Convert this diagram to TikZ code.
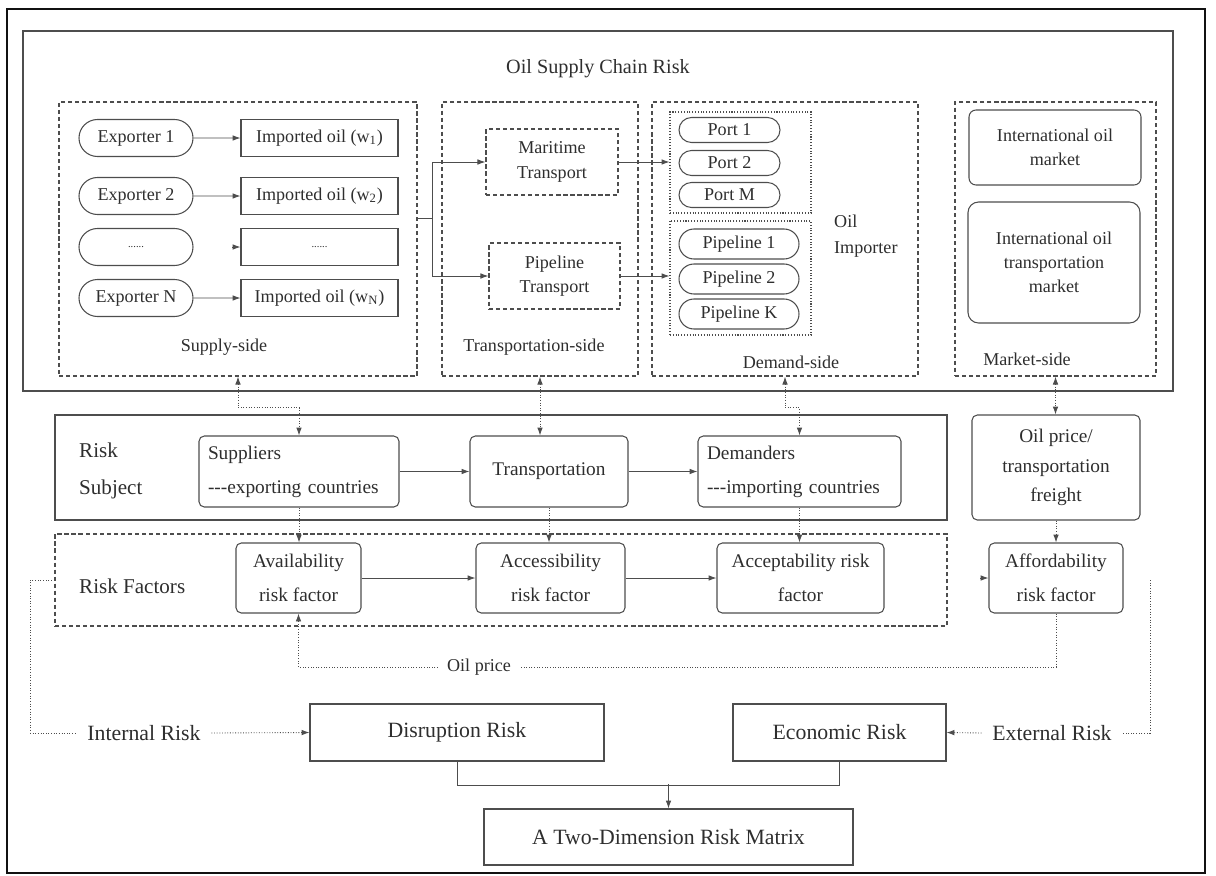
\documentclass[tikz,border=0pt]{standalone}
\usepackage{fontspec}
\setmainfont{Liberation Serif}
\usepackage{tikz}
\usetikzlibrary{calc,arrows.meta}
\usetikzlibrary{shapes.misc}
\definecolor{osc-text}{HTML}{2E2E2E}
\definecolor{osc-line}{HTML}{4D4D4D}
\definecolor{osc-frame}{HTML}{111111}
\tikzset{
  wh/.style 2 args={minimum width=#1*0.02cm, minimum height=#2*0.02cm, inner sep=0pt},
  lbl/.style={text=osc-text, font=\fontsize{10.3}{13.8}\selectfont, align=center},
  pill/.style={lbl, draw=osc-line, line width=0.6pt, rounded rectangle},
  sqbox/.style={lbl, draw=osc-line, line width=0.6pt},
  rbox/.style={lbl, draw=osc-line, line width=0.6pt, rounded corners=3pt, font=\fontsize{11}{19.3}\selectfont},
  dbox/.style={draw=osc-line, line width=0.7pt, dash pattern=on 2.4pt off 1.6pt},
  grp/.style={draw=osc-line, line width=0.6pt, densely dotted},
  link/.style={draw=osc-line, line width=0.5pt},
  dotlink/.style={draw=osc-line, line width=0.5pt, densely dotted},
  big/.style={font=\fontsize{12.4}{14}\selectfont},
}

\begin{document}
\begin{tikzpicture}[x=0.02cm, y=-0.02cm, >={Latex[length=4.5pt,width=3.2pt]}]
        \useasboundingbox (0,0) rectangle (1216,875);
        \draw[osc-frame, line width=1.4pt] (7,9) rectangle (1205,873);
        % supply chain layer
        \node[draw=osc-line, line width=0.8pt, wh={1150}{360}] (chain) at (598,211) {};
        \node[lbl, font=\fontsize{11.5}{14}\selectfont] (title) at (598,69) {Oil Supply Chain Risk};
        \node[dbox, wh={358}{274}] (supplyside) at (238,239) {};
        \node[dbox, wh={196}{274}] (transside) at (540,239) {};
        \node[dbox, wh={266}{274}] (demandside) at (785,239) {};
        \node[dbox, wh={201}{274}] (marketside) at (1055.5,239) {};
        \node[lbl] (supplylbl) at (224,347) {Supply-side};
        \node[lbl] (translbl) at (534,347) {Transportation-side};
        \node[lbl] (demandlbl) at (791,362) {Demand-side};
        \node[lbl] (marketlbl) at (1027,359) {Market-side};
        \node[pill, wh={114}{37}] (ex1) at (136,138) {Exporter 1};
        \node[pill, wh={114}{37}] (ex2) at (136,196) {Exporter 2};
        \node[pill, wh={114}{37}] (exdots) at (136,247) {\fontsize{6}{7}\selectfont ......};
        \node[pill, wh={114}{37}] (exN) at (136,298) {Exporter N};
        \node[sqbox, wh={157}{37}] (imp1) at (319.5,138) {Imported oil (w\textsubscript{1})};
        \node[sqbox, wh={157}{37}] (imp2) at (319.5,196) {Imported oil (w\textsubscript{2})};
        \node[sqbox, wh={157}{37}] (impdots) at (319.5,247) {\fontsize{6}{7}\selectfont ......};
        \node[sqbox, wh={157}{37}] (impN) at (319.5,298) {Imported oil (w\textsubscript{N})};
        \node[sqbox, dbox, wh={132}{66}] (maritime) at (552,162) {Maritime\\Transport};
        \node[sqbox, dbox, wh={131}{66}] (pipetrans) at (554.5,276) {Pipeline\\Transport};
        \node[grp, wh={141}{101}] (portgrp) at (740.5,162.5) {};
        \node[grp, wh={141}{114}] (pipegrp) at (740.5,278) {};
        \node[pill, wh={101}{25}] (port1) at (729.5,130) {Port 1};
        \node[pill, wh={101}{25}] (port2) at (729.5,163) {Port 2};
        \node[pill, wh={101}{25}] (portM) at (729.5,195) {Port M};
        \node[pill, wh={120}{30}] (pipe1) at (739,244) {Pipeline 1};
        \node[pill, wh={120}{30}] (pipe2) at (739,279) {Pipeline 2};
        \node[pill, wh={120}{30}] (pipeK) at (739,314) {Pipeline K};
        \node[lbl, anchor=west, align=left, font=\fontsize{10.3}{14.7}\selectfont] (importer) at (828,236) {Oil\\Importer};
        \node[sqbox, rounded corners=4pt, wh={172}{75}] (oilmkt) at (1055,147.5) {International oil\\market};
        \node[sqbox, rounded corners=6pt, wh={172}{121}] (freightmkt) at (1054,262.5) {International oil\\transportation\\market};
        \draw[link, ->] (ex1) -- (imp1);
        \draw[link, ->] (ex2) -- (imp2);
        \coordinate (dotstub) at ($(impdots.west)+(-8,0)$);
        \draw[link, ->] (dotstub) -- (impdots.west);
        \draw[link, ->] (exN) -- (impN);
        \coordinate (split) at (432,218);
        \draw[link] (supplyside.east |- split) -- (split);
        \draw[link, ->] (split) |- (maritime.west);
        \draw[link, ->] (split) |- (pipetrans.west);
        \draw[link, ->] (maritime.east) -- (maritime.east -| portgrp.west);
        \draw[link, ->] (pipetrans.east) -- (pipetrans.east -| pipegrp.west);
        % risk subject layer
        \node[draw=osc-line, line width=0.8pt, wh={892}{105}] (subject) at (501,467.5) {};
        \node[lbl, anchor=west, align=left, font=\fontsize{12}{21.5}\selectfont] (subjtitle) at (73,471) {Risk\\Subject};
        \node[rbox, align=left, text width=182*0.02cm, inner xsep=9*0.02cm, inner ysep=0pt, minimum height=71*0.02cm] (suppliers) at (299,471.5) {Suppliers\\-\kern0pt-\kern0pt-exporting countries};
        \node[rbox, wh={158}{71}] (transp) at (549,471.5) {Transportation};
        \node[rbox, align=left, text width=185*0.02cm, inner xsep=9*0.02cm, inner ysep=0pt, minimum height=71*0.02cm] (demanders) at (799.5,471.5) {Demanders\\-\kern0pt-\kern0pt-importing countries};
        \node[rbox, wh={168}{105}, font=\fontsize{11}{17}\selectfont] (oilprice) at (1056,467.5) {Oil price/\\transportation\\freight};
        \draw[link, ->] (suppliers) -- (transp);
        \draw[link, ->] (transp) -- (demanders);
        \draw[dotlink, <->] (supplyside.south) -- ++(0,31) -| (suppliers.north);
        \draw[dotlink, <->] (transside.south) -- (transside.south |- transp.north);
        \draw[dotlink, <->] (demandside.south) -- ++(0,31) -| (demanders.north);
        \draw[dotlink, <->] (marketside.south) -- (marketside.south |- oilprice.north);
        % risk factor layer
        \node[dbox, wh={892}{92}] (riskfac) at (501,580) {};
        \node[lbl, anchor=west, font=\fontsize{12}{14}\selectfont] (factitle) at (73,586) {Risk Factors};
        \node[rbox, wh={125}{70}] (avail) at (298.5,578) {Availability\\risk factor};
        \node[rbox, wh={149}{70}] (access) at (550.5,578) {Accessibility\\risk factor};
        \node[rbox, wh={167}{70}] (accept) at (800.5,578) {Acceptability risk\\factor};
        \node[rbox, wh={134}{70}] (afford) at (1056,578) {Affordability\\risk factor};
        \draw[dotlink, ->] (suppliers.south) -- (suppliers.south |- avail.north);
        \draw[dotlink, ->] (transp.south) -- (transp.south |- access.north);
        \draw[dotlink, ->] (demanders.south) -- (demanders.south |- accept.north);
        \draw[dotlink, ->] (oilprice.south) -- (oilprice.south |- afford.north);
        \draw[link, ->] (avail) -- (access);
        \draw[link, ->] (access) -- (accept);
        \coordinate (affstub) at ($(afford.west)+(-8,0)$);
        \draw[link, ->] (affstub) -- (afford.west);
        \node[lbl, inner xsep=5pt, font=\fontsize{10.3}{12}\selectfont] (oilp) at (479,667) {Oil price};
        \draw[dotlink] (afford.south) |- (oilp.east);
        \draw[dotlink, ->] (oilp.west) -| (avail.south);
        % risk outcome
        \node[sqbox, big, wh={294}{57}] (disrupt) at (457,732.5) {Disruption Risk};
        \node[sqbox, big, wh={213}{57}] (econ) at (839.5,732.5) {Economic Risk};
        \node[sqbox, big, wh={369}{56}] (matrix) at (668.5,837) {A Two-Dimension Risk Matrix};
        \node[lbl, big, inner xsep=6pt] (internal) at (144,733) {Internal Risk};
        \node[lbl, big, inner xsep=6pt] (external) at (1052,733) {External Risk};
        \draw[dotlink] (riskfac.west) -- ++(-24,0) |- (internal.west);
        \draw[dotlink, ->] (internal.east) -- (disrupt.west);
        \coordinate (extTop) at (1150,580);
        \draw[dotlink] (extTop) |- (external.east);
        \draw[dotlink, ->] (external.west) -- (econ.east);
        \draw[link] (disrupt.south) -- ++(0,24) -| (econ.south);
        \coordinate (join) at ($(matrix.north)+(0,-24)$);
        \draw[link, ->] (join) -- (matrix.north);
    \end{tikzpicture}
\end{document}
